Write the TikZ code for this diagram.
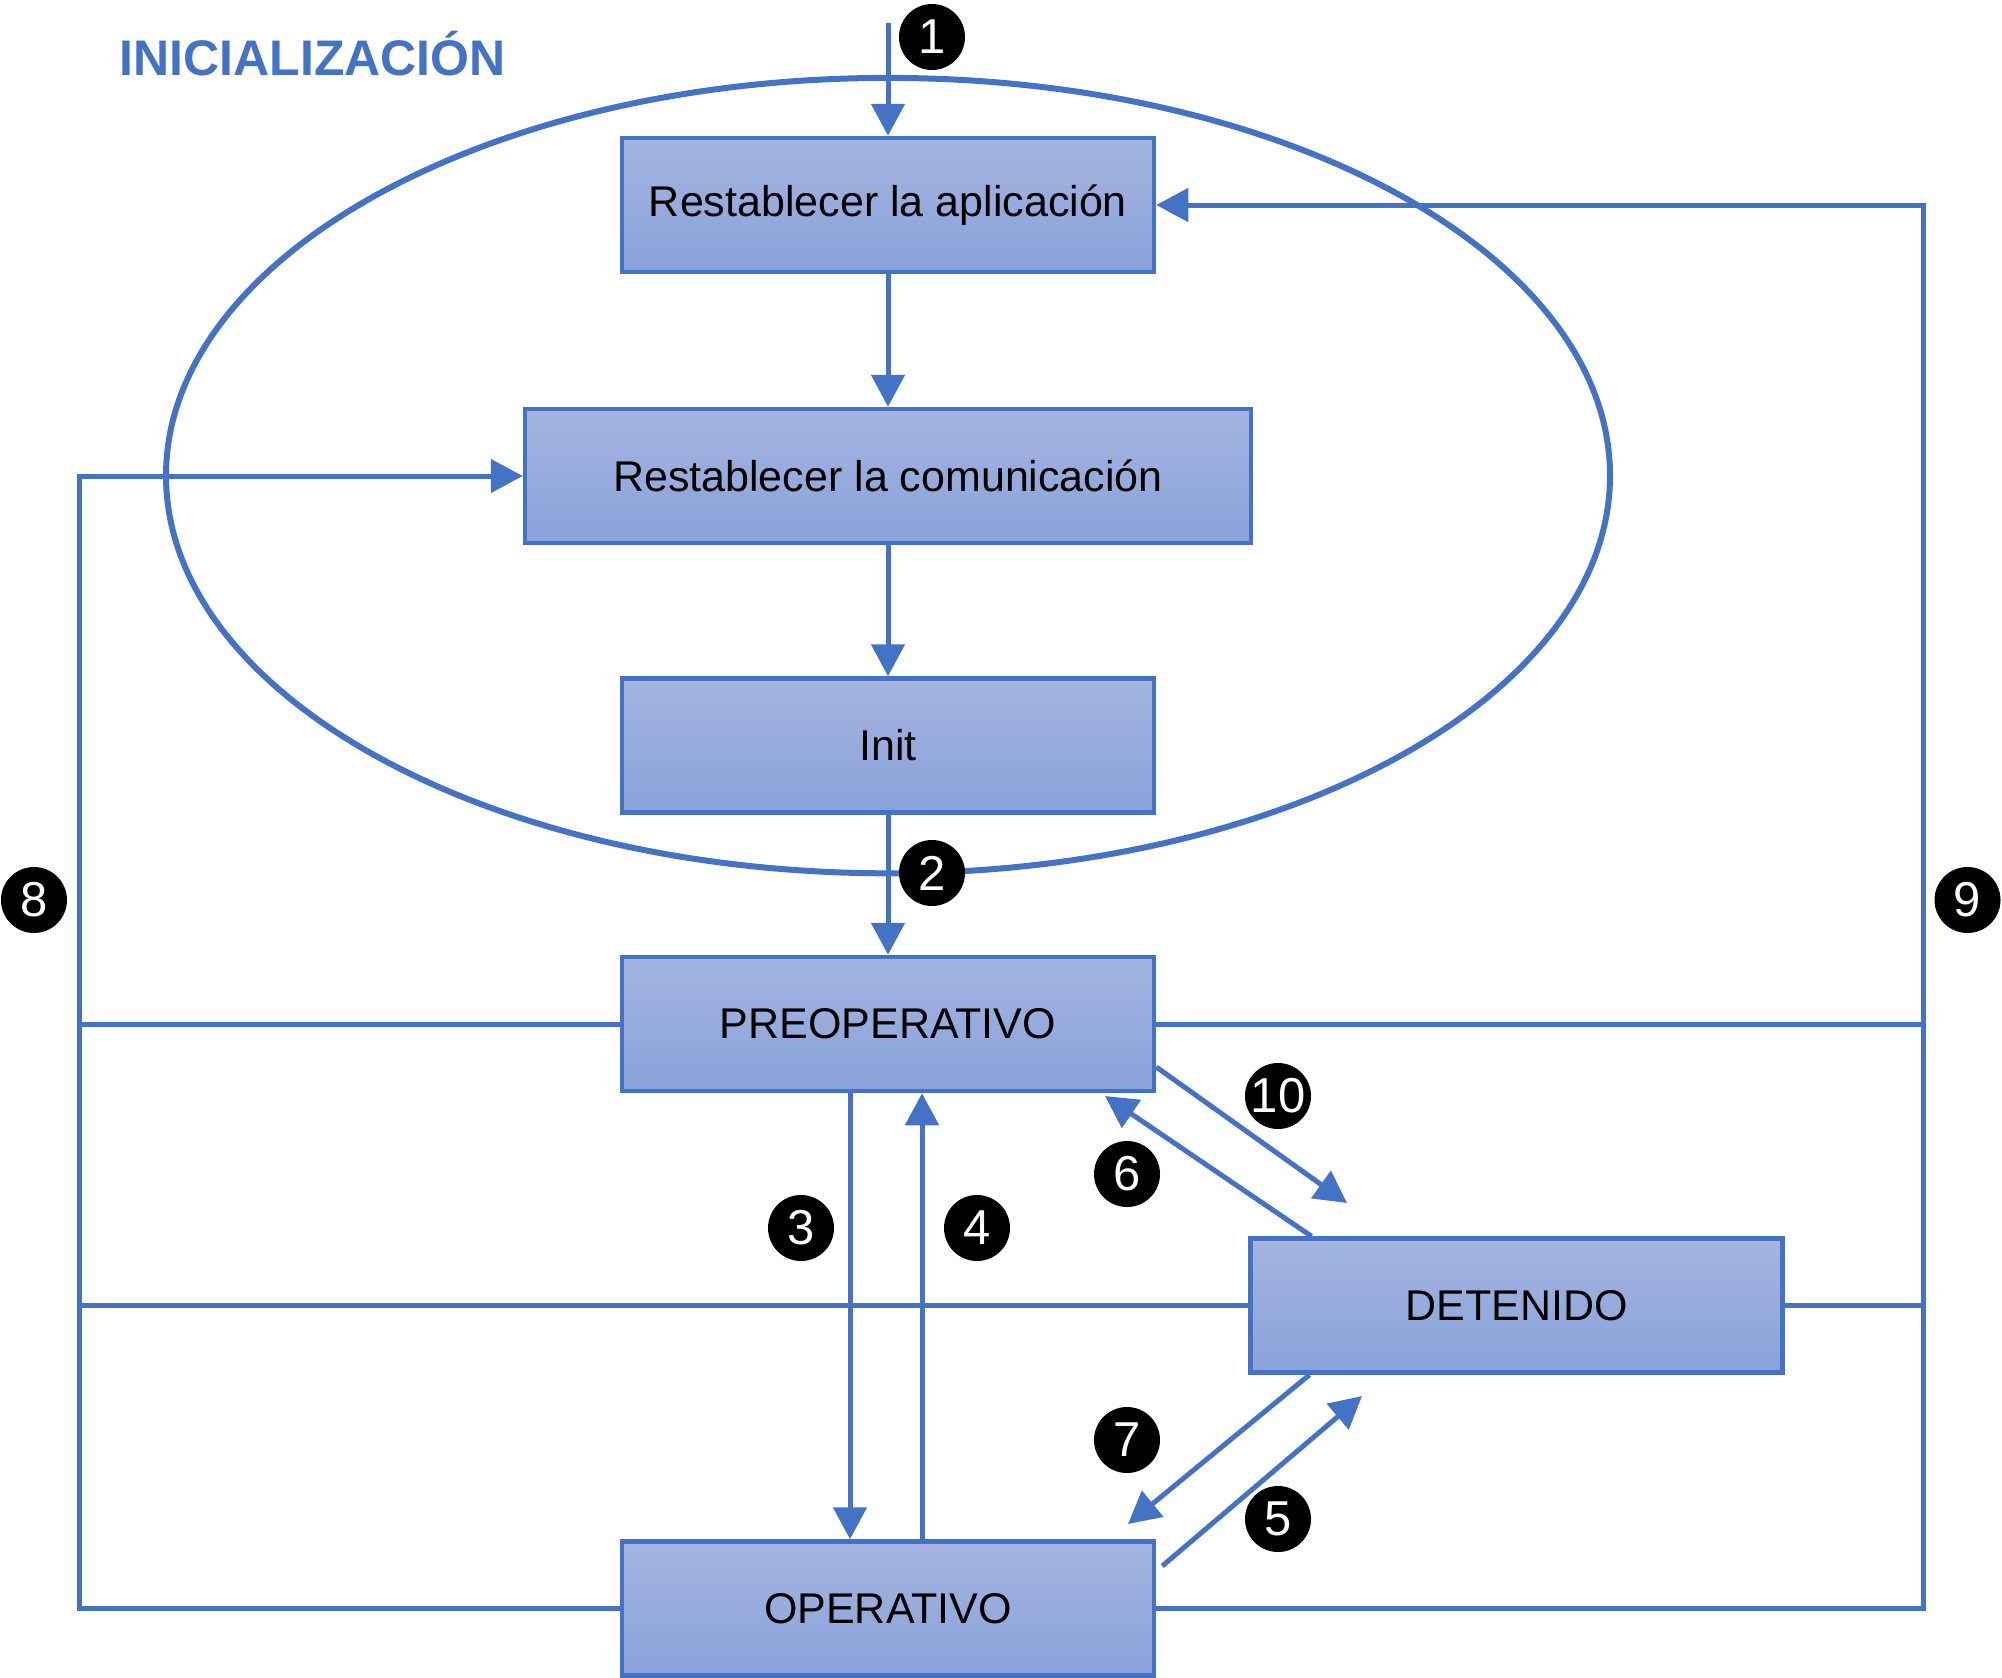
\documentclass[tikz,border=0pt]{standalone}
\usepackage{fontspec}
\setmainfont{Liberation Sans}
\usetikzlibrary{arrows.meta}
\definecolor{lblue}{HTML}{4472C4}
\definecolor{boxtop}{RGB}{164,180,224}
\definecolor{boxbot}{RGB}{137,162,218}
\begin{document}
\begin{tikzpicture}[x=1pt,y=-1pt,
  flow/.style={draw=lblue, line width=5pt},
  arr/.style={flow, -{Triangle[width=33pt,length=32pt]}},
  state/.style={draw=lblue, line width=4.5pt, top color=boxtop, bottom color=boxbot,
    minimum height=134pt, minimum width=532pt, inner sep=0pt,
    font=\fontsize{43}{50}\selectfont, text=black},
  num/.style={circle, fill=black, minimum size=66pt, inner sep=0pt, text=white,
    font=\fontsize{49}{56}\selectfont}]
\useasboundingbox (0,0) rectangle (2002,1678);

% ellipse (INICIALIZACION)
\draw[flow, line width=6pt] (888,475.6) ellipse [x radius=722pt, y radius=397.7pt];

\node[anchor=base west, inner sep=0pt, text=lblue, font=\bfseries\fontsize{50}{60}\selectfont] (title) at (119.5,75) {INICIALIZACIÓN};

% states
\node[state] (app) at (888,205) {Restablecer la aplicación};
\node[state, minimum width=726pt] (comm) at (888,476) {Restablecer la comunicación};
\node[state] (init) at (888,745.5) {Init};
\node[state] (preop) at (888,1024) {PREOPERATIVO};
\node[state] (det) at (1516.5,1305.5) {DETENIDO};
\node[state] (oper) at (888,1608.5) {OPERATIVO};

% vertical flow
\coordinate (s1) at (888,23);
\draw[arr] (s1) -- (app.north);
\draw[arr] (app.south) -- (comm.north);
\draw[arr] (comm.south) -- (init.north);
\draw[arr] (init.south) -- (preop.north);
\draw[arr] ([xshift=-38pt]preop.south) -- ([xshift=-38pt]oper.north);
\draw[arr] ([xshift=34pt]oper.north) -- ([xshift=34pt]preop.south);

% diagonals
\coordinate (d10e) at (1347,1203);
\coordinate (d6e) at (1105,1096);
\coordinate (d7e) at (1128,1524);
\coordinate (d5e) at (1362,1396);
\draw[arr] ([yshift=-43pt]preop.east) -- (d10e);
\draw[arr] ([xshift=-205pt]det.north) -- (d6e);
\draw[arr] ([xshift=-207pt]det.south) -- (d7e);
\draw[arr] ([xshift=6pt,yshift=42.5pt]oper.east) -- (d5e);

% left bus
\coordinate (L0) at (79.5,476);
\coordinate (Lp) at (79.5,1024);
\coordinate (Ld) at (79.5,1305.5);
\coordinate (Lo) at (79.5,1608.5);
\draw[arr] (oper.west) -- (Lo) -- (L0) -- (comm.west);
\draw[flow] (preop.west) -- (Lp);
\draw[flow] (det.west) -- (Ld);

% right bus
\coordinate (R0) at (1923,205);
\coordinate (Rp) at (1923,1024);
\coordinate (Rd) at (1923,1305.5);
\coordinate (Ro) at (1923,1608.5);
\draw[arr] (oper.east) -- (Ro) -- (R0) -- (app.east);
\draw[flow] (preop.east) -- (Rp);
\draw[flow] (det.east) -- (Rd);

% numbers
\node[num] (n1) at (932,37) {1};
\node[num] (n2) at (932,873) {2};
\node[num] (n3) at (801,1228) {3};
\node[num] (n4) at (977,1228) {4};
\node[num] (n5) at (1278,1519) {5};
\node[num] (n6) at (1127,1174) {6};
\node[num] (n7) at (1127,1440) {7};
\node[num] (n8) at (34,900) {8};
\node[num] (n9) at (1967.5,900) {9};
\node[num] (n10) at (1278,1096) {10};
\end{tikzpicture}
\end{document}
